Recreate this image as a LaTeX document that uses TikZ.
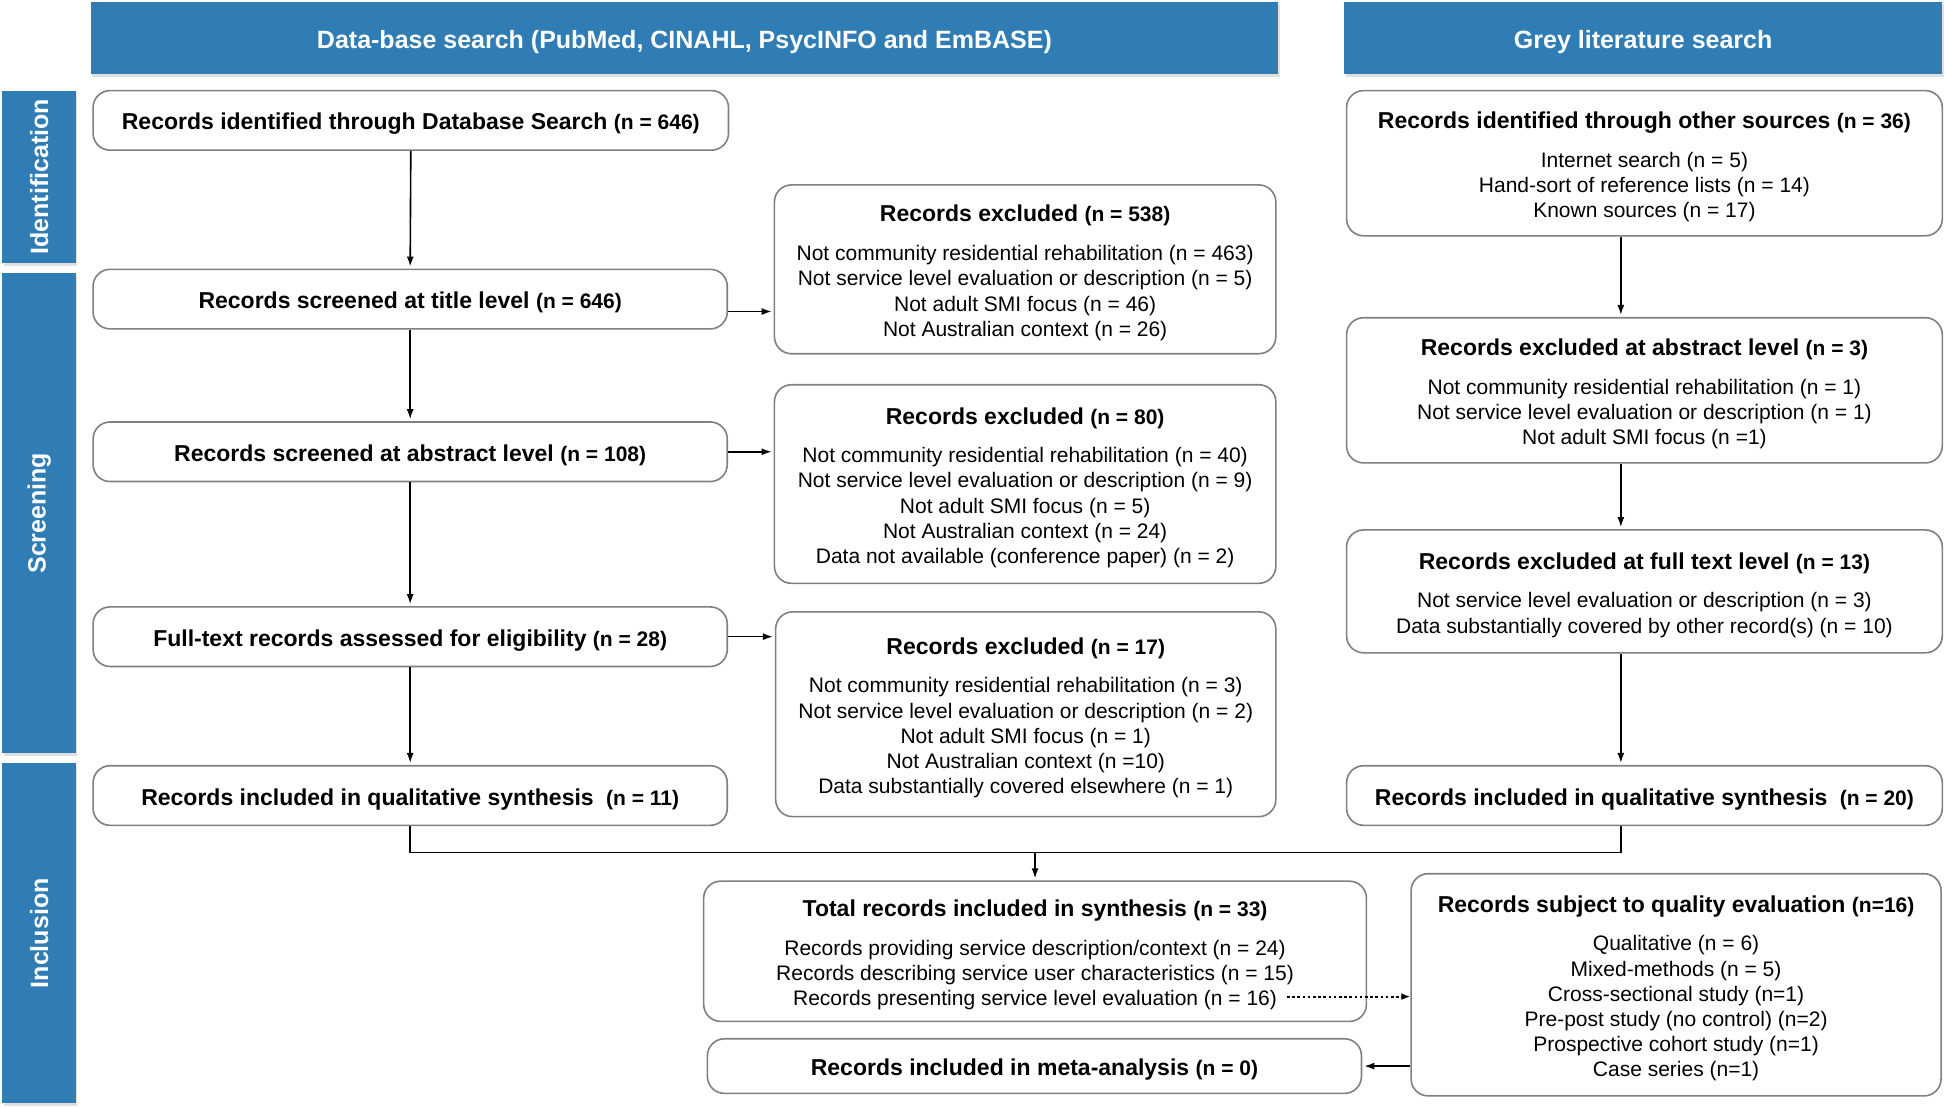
\documentclass[tikz,border=0pt]{standalone}
\usepackage{fontspec}
\setmainfont{Liberation Sans}
\usetikzlibrary{arrows.meta,shadows}
\definecolor{hblue}{RGB}{47,125,180}
\definecolor{bgray}{RGB}{128,128,128}
\newcommand\ttl[2]{{\bfseries\fontsize{23}{25.2}\selectfont #1 \fontsize{21}{25.2}\selectfont #2}}
% \bx{name}{x1}{y1}{x2}{y2}{style}{text}
\newcommand\bx[7]{\node[#6, minimum width={(#4-#2)*1.241pt}, minimum height={(#5-#3)*1.241pt}] (#1) at ({(#2+#4)/2},{(#3+#5)/2}) {};
  \node[#6 text] (#1t) at ([yshift=-3.6pt]#1.center) {#7};}
\begin{document}
\begin{tikzpicture}[x=1.241pt,y=-1.241pt,
  box/.style={draw=bgray, line width=1.6pt, rounded corners=17pt, fill=white, inner sep=0pt},
  box text/.style={inner sep=0pt, align=center, font=\fontsize{21}{25.2}\selectfont},
  hdr/.style={fill=hblue, inner sep=0pt, drop shadow={opacity=0.25,shadow xshift=1.5pt,shadow yshift=-2.5pt}},
  hdr text/.style={inner sep=0pt, text=white, font=\bfseries\fontsize{25}{30}\selectfont},
  vlab/.style={rotate=90, text=white, font=\bfseries\fontsize{25}{30}\selectfont},
  arr/.style={-{Latex[length=10pt,width=7pt]}, line width=1.6pt, shorten >=2pt},
  dots/.style={-{Latex[length=9pt,width=7pt]}, line width=2pt, dash pattern=on 2.6pt off 2.6pt},
  conn/.style={line width=1.6pt},
]
\useasboundingbox (0,0) rectangle (1568,893);
\fill[white] (0,0) rectangle (1568,893);

% headers
\bx{hdrA}{73}{2}{1030}{60}{hdr}{Data-base search (PubMed, CINAHL, PsycINFO and EmBASE)}
\bx{hdrB}{1083}{2}{1565}{60}{hdr}{Grey literature search}

% side bars
\node[hdr, minimum width={59*1.241pt}, minimum height={139*1.241pt}] (barI) at (31.5,142.5) {};
\node[vlab] (barIt) at (barI.center) {Identification};
\node[hdr, minimum width={59*1.241pt}, minimum height={387*1.241pt}] (barS) at (31.5,413.5) {};
\node[vlab] (barSt) at (barS.center) {Screening};
\node[hdr, minimum width={59*1.241pt}, minimum height={274*1.241pt}] (barN) at (31.5,752) {};
\node[vlab] (barNt) at (barN.center) {Inclusion};

% left column
\bx{B1}{75}{73}{587}{121}{box}{\ttl{Records identified through Database Search}{(n = 646)}}
\bx{B2}{75}{217}{586}{265}{box}{\ttl{Records screened at title level}{(n = 646)}}
\bx{B3}{75}{340}{586}{388}{box}{\ttl{Records screened at abstract level}{(n = 108)}}
\bx{B4}{75}{489}{586}{537}{box}{\ttl{Full-text records assessed for eligibility}{(n = 28)}}
\bx{B5}{75}{617}{586}{665}{box}{\ttl{Records included in qualitative synthesis\hspace{6pt}}{(n = 11)}}

% middle column
\bx{E1}{624}{149}{1028}{285}{box}{\ttl{Records excluded}{(n = 538)}\\[13.5pt]
Not community residential rehabilitation (n = 463)\\
Not service level evaluation or description (n = 5)\\
Not adult SMI focus (n = 46)\\
Not Australian context (n = 26)}
\bx{E2}{624}{310}{1028}{470}{box}{\ttl{Records excluded}{(n = 80)}\\[13.5pt]
Not community residential rehabilitation (n = 40)\\
Not service level evaluation or description (n = 9)\\
Not adult SMI focus (n = 5)\\
Not Australian context (n = 24)\\
Data not available (conference paper) (n = 2)}
\bx{E3}{625}{493}{1028}{658}{box}{\ttl{Records excluded}{(n = 17)}\\[13.5pt]
Not community residential rehabilitation (n = 3)\\
Not service level evaluation or description (n = 2)\\
Not adult SMI focus (n = 1)\\
Not Australian context (n =10)\\
Data substantially covered elsewhere (n = 1)}

% right column
\bx{G1}{1085}{73}{1565}{190}{box}{\ttl{Records identified through other sources}{(n = 36)}\\[13.5pt]
Internet search (n = 5)\\
Hand-sort of reference lists (n = 14)\\
Known sources (n = 17)}
\bx{G2}{1085}{256}{1565}{373}{box}{\ttl{Records excluded at abstract level}{(n = 3)}\\[13.5pt]
Not community residential rehabilitation (n = 1)\\
Not service level evaluation or description (n = 1)\\
Not adult SMI focus (n =1)}
\bx{G3}{1085}{427}{1565}{526}{box}{\ttl{Records excluded at full text level}{(n = 13)}\\[13.5pt]
Not service level evaluation or description (n = 3)\\
Data substantially covered by other record(s) (n = 10)}
\bx{G4}{1085}{617}{1565}{665}{box}{\ttl{Records included in qualitative synthesis\hspace{6pt}}{(n = 20)}}

% bottom
\bx{T}{567}{710}{1101}{823}{box}{\ttl{Total records included in synthesis}{(n = 33)}\\[13.5pt]
Records providing service description/context (n = 24)\\
Records describing service user characteristics (n = 15)\\
Records presenting service level evaluation (n = 16)}
\bx{M}{570}{837}{1097}{881}{box}{\ttl{Records included in meta-analysis}{(n = 0)}}
\bx{Q}{1137}{704}{1564}{883}{box}{\ttl{Records subject to quality evaluation}{(n=16)}\\[13.5pt]
Qualitative (n = 6)\\
Mixed-methods (n = 5)\\
Cross-sectional study (n=1)\\
Pre-post study (no control) (n=2)\\
Prospective cohort study (n=1)\\
Case series (n=1)}

% helper coordinates
\coordinate (xg) at (1306,0);
\coordinate (mY) at (0,687);
\coordinate (yE1) at (0,251);
\coordinate (dotS) at (1037,803);

% connectors left column
\draw[arr] (B1.south) -- (B2.north);
\draw[arr] (B2.south) -- (B3.north);
\draw[arr] (B3.south) -- (B4.north);
\draw[arr] (B4.south) -- (B5.north);
\draw[arr] (B2.east |- yE1) -- (E1.west |- yE1);
\draw[arr] (B3.east) -- (B3.east -| E2.west);
\draw[arr] (B4.east) -- (B4.east -| E3.west);

% right column
\draw[arr] (G1.south -| xg) -- (G2.north -| xg);
\draw[arr] (G2.south -| xg) -- (G3.north -| xg);
\draw[arr] (G3.south -| xg) -- (G4.north -| xg);

% merge
\draw[conn] (B5.south) |- (mY -| xg) -- (G4.south -| xg);
\draw[arr] (T.north |- mY) -- (T.north);

% bottom
\draw[dots] (dotS) -- (dotS -| Q.west);
\draw[arr] (Q.west |- M.east) -- (M.east);
\end{tikzpicture}
\end{document}
